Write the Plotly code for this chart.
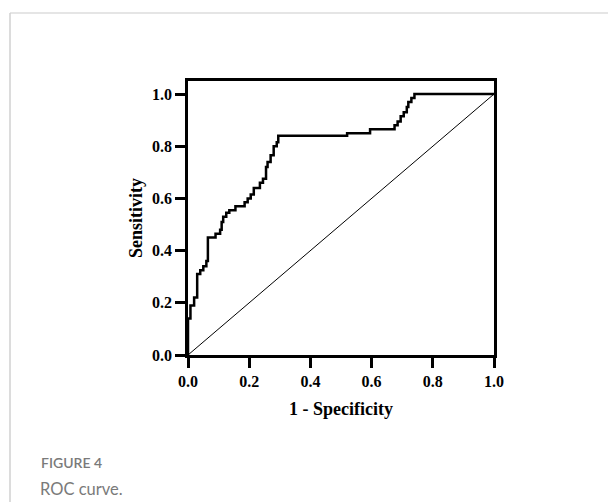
import plotly.graph_objects as go

# ROC curve step points (1 - specificity, sensitivity)
fpr = [0.0, 0.0, 0.008, 0.02, 0.03, 0.04, 0.05, 0.06, 0.065, 0.09, 0.105, 0.11, 0.115,
       0.125, 0.135, 0.155, 0.185, 0.195, 0.205, 0.215, 0.235, 0.245, 0.255, 0.26,
       0.27, 0.28, 0.29, 0.295, 0.52, 0.595, 0.675, 0.685, 0.695, 0.705, 0.715,
       0.72, 0.73, 0.74, 1.0]
tpr = [0.0, 0.14, 0.19, 0.22, 0.31, 0.325, 0.34, 0.36, 0.45, 0.465, 0.48, 0.51, 0.53,
       0.545, 0.555, 0.57, 0.585, 0.60, 0.615, 0.64, 0.66, 0.675, 0.72, 0.74,
       0.765, 0.80, 0.815, 0.84, 0.85, 0.865, 0.88, 0.895, 0.915, 0.93, 0.95,
       0.97, 0.985, 1.0, 1.0]
ref_x = [0.0, 1.0]
ref_y = [0.0, 1.0]
tick_vals = [0.0, 0.2, 0.4, 0.6, 0.8, 1.0]
tick_text = ["0.0", "0.2", "0.4", "0.6", "0.8", "1.0"]

# page shows the figure offset by the 8px body margin
W, H = 608, 494
L, R, T, B = 180, 122, 73, 147
PW, PH = W - L - R, H - T - B
OFF = 8


def px(X):
    return (X - OFF - L) / PW


def py(Y):
    return (H - B - (Y - OFF)) / PH


fig = go.Figure()
fig.add_trace(go.Scatter(x=ref_x, y=ref_y, mode="lines",
                         line=dict(color="black", width=1), hoverinfo="skip"))
fig.add_trace(go.Scatter(x=fpr, y=tpr, mode="lines", line_shape="hv",
                         line=dict(color="black", width=2.5)))

tick_font = dict(family="Liberation Serif", size=16, color="black", weight="bold")
title_font = dict(family="Liberation Serif", size=18, color="black", weight="bold")
common = dict(showline=True, linewidth=2.5, linecolor="black", mirror=True,
              ticks="outside", ticklen=10, tickwidth=2.5, tickcolor="black",
              showgrid=False, zeroline=False, tickvals=tick_vals, ticktext=tick_text,
              tickfont=tick_font)
fig.update_xaxes(range=[0, 1.0],
                 title=dict(text="1 - Specificity", font=title_font, standoff=14),
                 **common)
fig.update_yaxes(range=[0, 1.05],
                 title=dict(text="Sensitivity", font=title_font, standoff=5),
                 **common)

# card border
fig.add_shape(type="line", xref="paper", yref="paper", x0=px(10), x1=px(616),
              y0=py(13), y1=py(13), line=dict(color="#dcdcdc", width=1.5))
fig.add_shape(type="line", xref="paper", yref="paper", x0=px(10), x1=px(10),
              y0=py(13), y1=py(502), line=dict(color="#d0d0d0", width=1.5))

fig.add_annotation(text="FIGURE 4", xref="paper", yref="paper", x=px(39), y=py(462),
                   xanchor="left", yanchor="middle", showarrow=False,
                   font=dict(family="Lato", size=14, color="#7a7a7a", weight=600))
fig.add_annotation(text="ROC curve.", xref="paper", yref="paper", x=px(38), y=py(489),
                   xanchor="left", yanchor="middle", showarrow=False,
                   font=dict(family="Lato", size=16.5, color="#7a7a7a"))

fig.update_layout(width=W, height=H, margin=dict(l=L, r=R, t=T, b=B),
                  plot_bgcolor="white", paper_bgcolor="white", showlegend=False)
fig.write_html("out.html")
